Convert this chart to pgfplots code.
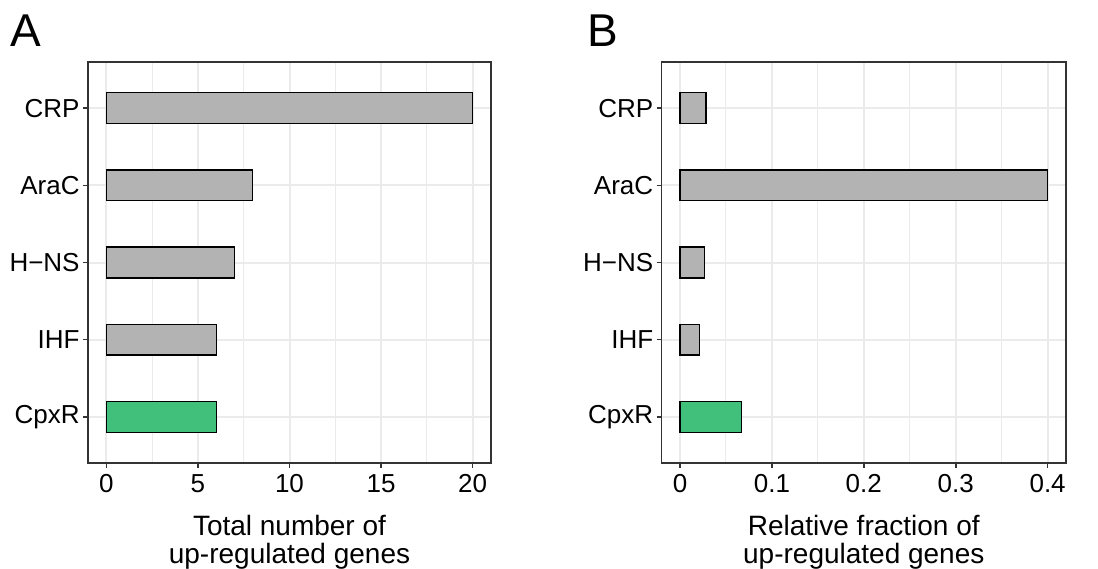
\documentclass[border=0pt]{standalone}
\usepackage{fontspec}
\setmainfont{Liberation Sans}
\usepackage{pgfplots}
\pgfplotsset{compat=1.18}
\definecolor{barGray}{HTML}{B3B3B3}
\definecolor{cpxGreen}{HTML}{40C07A}
\definecolor{gridGray}{HTML}{EBEBEB}
\definecolor{frameGray}{HTML}{333333}

\pgfplotsset{
  panel/.style={
    scale only axis, height=200.5pt, anchor=south west,
    axis line style={frameGray, line width=0.8pt},
    ymin=0.4, ymax=5.6, ytick={1,2,3,4,5},
    yticklabels={CpxR,IHF,H−NS,AraC,CRP},
    xmajorgrids, ymajorgrids, xminorgrids,
    major grid style={gridGray, line width=1pt},
    minor grid style={gridGray, line width=0.5pt},
    tick align=outside, tick pos=left,
    major tick length=2.5pt, minor tick length=0pt,
    tick style={frameGray, line width=0.8pt},
    /pgf/number format/assume math mode=true,
    ticklabel style={font=\fontsize{13}{13}\selectfont, inner sep=0pt},
    xticklabel style={yshift=-3pt},
    yticklabel style={xshift=-1.5pt},
    xlabel style={at={(axis description cs:0.5,0)}, anchor=north, yshift=-26pt,
      align=center, inner sep=0pt, font=\fontsize{14}{14}\selectfont},
  },
  gbar/.style={xbar, bar width=0.4, draw=black, line width=0.6pt, fill=barGray},
}

\begin{document}
\begin{tikzpicture}
\useasboundingbox (0,0) rectangle (549pt,284pt);

% panel A: total counts
\begin{axis}[panel, at={(44pt,52.5pt)}, width=201.5pt,
    xmin=-1, xmax=21, xtick={0,5,10,15,20}, minor xtick={2.5,7.5,12.5,17.5},
    xlabel={Total number of\\up-regulated genes}]
  \addplot[gbar] coordinates {(20,5) (8,4) (7,3) (6,2)};
  \addplot[gbar, fill=cpxGreen] coordinates {(6,1)};
\end{axis}

% panel B: relative fraction
\begin{axis}[panel, at={(330.8pt,52.5pt)}, width=202.2pt,
    xmin=-0.02, xmax=0.42, xtick={0,0.1,0.2,0.3,0.4},
    minor xtick={0.05,0.15,0.25,0.35},
    xlabel={Relative fraction of\\up-regulated genes}]
  \addplot[gbar] coordinates {(0.0283,5) (0.4,4) (0.0265,3) (0.0208,2)};
  \addplot[gbar, fill=cpxGreen] coordinates {(0.0667,1)};
\end{axis}

\node[font=\fontsize{23}{23}\selectfont, anchor=base west, inner sep=0pt] at (5pt,260.5pt) {A};
\node[font=\fontsize{23}{23}\selectfont, anchor=base west, inner sep=0pt] at (293.5pt,260.5pt) {B};
\end{tikzpicture}
\end{document}
